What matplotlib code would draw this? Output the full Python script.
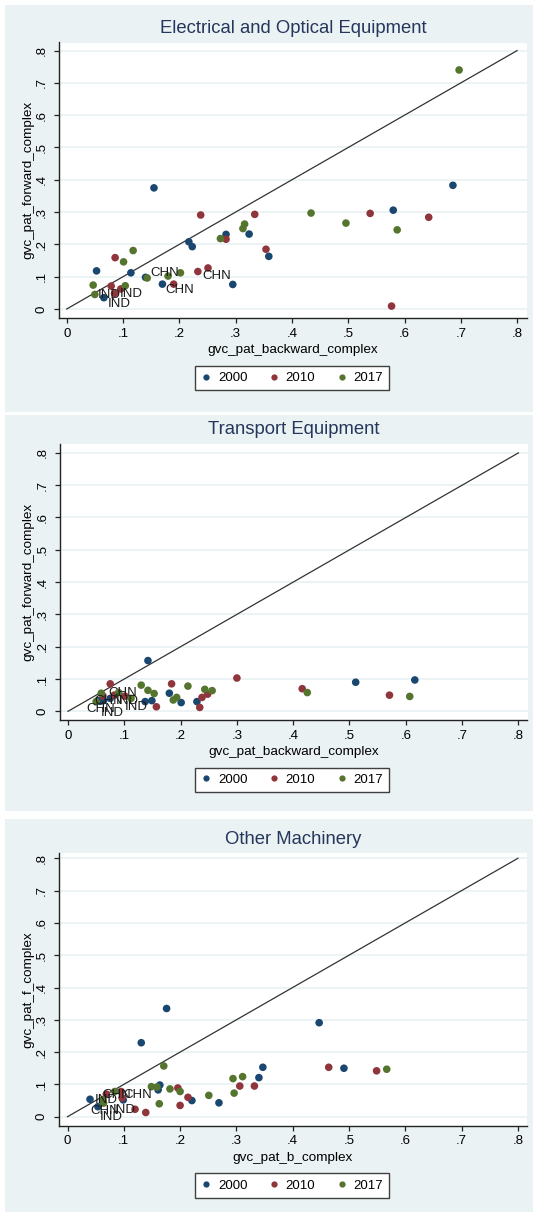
import matplotlib
matplotlib.use('Agg')
import matplotlib.pyplot as plt
from matplotlib.patches import Rectangle
from matplotlib.lines import Line2D

plt.rcParams['font.family'] = ['Liberation Sans', 'DejaVu Sans']

# ---------------- data ----------------
years = ['2000', '2010', '2017']
tick_values = [0, .1, .2, .3, .4, .5, .6, .7, .8]
tick_labels = ['0', '.1', '.2', '.3', '.4', '.5', '.6', '.7', '.8']

titles = ['Electrical and Optical Equipment', 'Transport Equipment', 'Other Machinery']
xlabels = ['gvc_pat_backward_complex', 'gvc_pat_backward_complex', 'gvc_pat_b_complex']
ylabels = ['gvc_pat_forward_complex', 'gvc_pat_forward_complex', 'gvc_pat_f_complex']

# Panel 1: Electrical and Optical Equipment
elec_2000_x = [0.053, 0.155, 0.114, 0.140, 0.170, 0.217, 0.223, 0.283, 0.295, 0.324, 0.359, 0.580, 0.686, 0.066]
elec_2000_y = [0.118, 0.375, 0.112, 0.098, 0.077, 0.208, 0.193, 0.231, 0.076, 0.232, 0.163, 0.306, 0.383, 0.035]
elec_2010_x = [0.086, 0.079, 0.096, 0.085, 0.238, 0.233, 0.251, 0.190, 0.283, 0.334, 0.354, 0.539, 0.643, 0.577]
elec_2010_y = [0.159, 0.071, 0.062, 0.048, 0.291, 0.116, 0.127, 0.077, 0.216, 0.293, 0.185, 0.296, 0.284, 0.009]
elec_2017_x = [0.047, 0.101, 0.118, 0.104, 0.143, 0.180, 0.202, 0.273, 0.313, 0.316, 0.434, 0.496, 0.587, 0.697, 0.050]
elec_2017_y = [0.074, 0.146, 0.181, 0.072, 0.096, 0.102, 0.112, 0.218, 0.249, 0.263, 0.297, 0.266, 0.245, 0.740, 0.045]

# Panel 2: Transport Equipment
trans_2000_x = [0.142, 0.180, 0.201, 0.229, 0.137, 0.149, 0.511, 0.616, 0.057, 0.053, 0.063, 0.075]
trans_2000_y = [0.157, 0.056, 0.027, 0.030, 0.030, 0.033, 0.090, 0.097, 0.031, 0.033, 0.033, 0.040]
trans_2010_x = [0.075, 0.184, 0.300, 0.157, 0.234, 0.238, 0.248, 0.416, 0.571, 0.101, 0.082, 0.062]
trans_2010_y = [0.085, 0.085, 0.103, 0.014, 0.012, 0.043, 0.053, 0.070, 0.050, 0.047, 0.050, 0.048]
trans_2017_x = [0.130, 0.142, 0.153, 0.213, 0.243, 0.256, 0.193, 0.187, 0.425, 0.607, 0.059, 0.050, 0.090, 0.112]
trans_2017_y = [0.081, 0.065, 0.055, 0.078, 0.068, 0.064, 0.043, 0.035, 0.058, 0.046, 0.056, 0.030, 0.058, 0.040]

# Panel 3: Other Machinery
mach_2000_x = [0.176, 0.131, 0.447, 0.347, 0.340, 0.269, 0.221, 0.164, 0.161, 0.040, 0.054, 0.099, 0.491]
mach_2000_y = [0.335, 0.229, 0.291, 0.153, 0.121, 0.043, 0.050, 0.098, 0.083, 0.054, 0.031, 0.052, 0.150]
mach_2010_x = [0.196, 0.214, 0.200, 0.139, 0.120, 0.306, 0.332, 0.464, 0.549, 0.097, 0.069, 0.095]
mach_2010_y = [0.089, 0.060, 0.035, 0.013, 0.023, 0.095, 0.095, 0.153, 0.142, 0.058, 0.070, 0.078]
mach_2017_x = [0.171, 0.149, 0.159, 0.182, 0.200, 0.163, 0.251, 0.294, 0.311, 0.296, 0.084, 0.064, 0.567, 0.063]
mach_2017_y = [0.157, 0.093, 0.092, 0.086, 0.078, 0.040, 0.066, 0.118, 0.124, 0.073, 0.078, 0.042, 0.147, 0.052]

series = [
    [(elec_2000_x, elec_2000_y), (elec_2010_x, elec_2010_y), (elec_2017_x, elec_2017_y)],
    [(trans_2000_x, trans_2000_y), (trans_2010_x, trans_2010_y), (trans_2017_x, trans_2017_y)],
    [(mach_2000_x, mach_2000_y), (mach_2010_x, mach_2010_y), (mach_2017_x, mach_2017_y)],
]

# marker labels: (series index, point index, text, dx px, dy px)
labels = [
    [(2, 4, 'CHN', 3, 4.5), (0, 4, 'CHN', 3, -6), (1, 5, 'CHN', 4.5, -4),
     (2, 14, 'IND', 3, -0.5), (1, 3, 'IND', 5.5, -0.5), (0, 13, 'IND', 4, -6.5)],
    [(2, 10, 'CHN', 7, 0.6), (0, 9, 'CHN', -3, -0.5), (0, 9, 'CHN', -11, -8.5),
     (1, 9, 'IND', 0, -10.5), (0, 8, 'IND', 0.5, -11.5), (0, 11, 'IND', 5.5, -3)],
    [(1, 10, 'CHN', -4, -0.6), (1, 11, 'CHN', 2.3, -3.2), (0, 10, 'CHN', -8, -4.8),
     (2, 13, 'IND', -8.4, 0), (2, 11, 'IND', 9, -6.7), (0, 10, 'IND', 1.7, -9.9)],
]

# ---------------- style / layout ----------------
W, H, DPI = 533, 1215, 100
PT = 72.0 / DPI
BG = '#EAF2F3'
colors = ['#1A476F', '#90353B', '#55752F']
SX, SY = 563.0, 323.0

layout = [
    dict(x0=66.7, y0=309.0, box=(59, 527, 42.5, 318), bg=(5, 412)),
    dict(x0=68.0, y0=711.3, box=(60, 527.5, 444, 720), bg=(415, 811)),
    dict(x0=67.5, y0=1116.7, box=(58.5, 527, 853, 1125.5), bg=(819, 1212)),
]

fig = plt.figure(figsize=(W / DPI, H / DPI), dpi=DPI)
fig.patch.set_facecolor('white')


def fx(px):
    return px / W


def fy(py):
    return 1 - py / H


for i, lay in enumerate(layout):
    bt, bb = lay['bg']
    fig.add_artist(Rectangle((fx(5), fy(bb)), fx(W) - fx(5), (bb - bt) / H,
                             transform=fig.transFigure, facecolor=BG,
                             edgecolor='none', zorder=0))
    l, r, t, b = lay['box']
    ax = fig.add_axes([fx(l), fy(b), (r - l) / W, (b - t) / H])
    ax.set_facecolor('white')
    ax.set_xlim((l - lay['x0']) / SX, (r - lay['x0']) / SX)
    ax.set_ylim((lay['y0'] - b) / SY, (lay['y0'] - t) / SY)

    for s in ['top', 'right']:
        ax.spines[s].set_visible(False)
    for s in ['left', 'bottom']:
        ax.spines[s].set_color('#222222')
        ax.spines[s].set_linewidth(1.0)

    ax.set_xticks(tick_values)
    ax.set_xticklabels(tick_labels)
    ax.set_yticks(tick_values)
    ax.set_yticklabels(tick_labels)
    ax.tick_params(axis='both', direction='out', length=5 * PT, width=0.9,
                   color='#222222', labelsize=9.5, labelcolor='black')
    ax.tick_params(axis='x', pad=3.5)
    ax.tick_params(axis='y', pad=4.5, labelrotation=90)
    for lab in ax.get_yticklabels():
        lab.set_va('center')
        lab.set_ha('right')

    for tv in tick_values:
        ax.axhline(tv, color=BG, lw=1.3, zorder=0.5)

    ax.plot([0, 0.8], [0, 0.8], color='#333333', lw=0.9, zorder=1)

    for k, (xs, ys) in enumerate(series[i]):
        ax.scatter(xs, ys, s=30, color=colors[k], edgecolors='none', zorder=2 + k)

    for (si, pi, txt, dx, dy) in labels[i]:
        xs, ys = series[i][si]
        ax.annotate(txt, xy=(xs[pi], ys[pi]), xytext=(dx * PT, dy * PT),
                    textcoords='offset points', ha='left', va='center',
                    fontsize=9.5, color='#1a1a1a', zorder=6)

    cx = (l + r) / 2
    fig.text(fx(cx), fy(t - 14), titles[i], ha='center', va='center',
             fontsize=13.3, color='#26365c')
    fig.text(fx(cx), fy(b + 32), xlabels[i], ha='center', va='center',
             fontsize=9.7, color='black')
    fig.text(fx(28), fy((t + b) / 2), ylabels[i], ha='center', va='center',
             rotation=90, fontsize=9.7, color='black')

    handles = [Line2D([], [], marker='o', ls='', color=c, markersize=4.5,
                      markeredgewidth=0) for c in colors]
    leg = fig.legend(handles, years, ncol=3, loc='center',
                     bbox_to_anchor=(fx(292), fy(b + 60)), frameon=True,
                     fontsize=9.5, handlelength=0.8, handletextpad=0.5,
                     columnspacing=1.6, borderpad=0.45, fancybox=False,
                     edgecolor='#404040', facecolor='white', framealpha=1)
    leg.get_frame().set_linewidth(1.0)

fig.savefig('out.png', dpi=DPI, facecolor='white')
